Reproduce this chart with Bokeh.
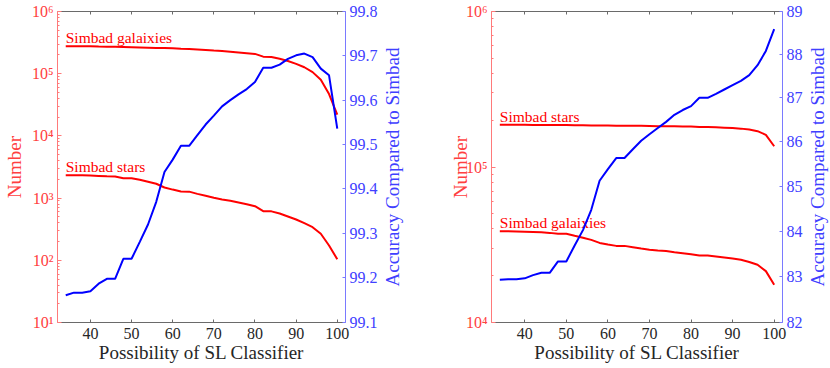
import math
from bokeh.plotting import figure
from bokeh.models import Range1d, LinearAxis, FixedTicker
from bokeh.layouts import row
from bokeh.embed import file_html
from bokeh.resources import INLINE
from bokeh.core.properties import value

# ---------------- data ----------------
threshold = list(range(34, 101, 2))

left_galaxies = [277000, 277000, 276000, 275000, 273000, 272000, 270000, 268000, 266000, 264000,
                 262000, 260000, 258000, 256000, 252000, 250000, 246000, 241000, 236000, 232000,
                 226000, 220000, 214000, 208000, 188000, 186000, 174000, 160000, 144000, 127000,
                 106000, 80000, 47000, 22000]
left_stars = [2340, 2330, 2320, 2300, 2270, 2240, 2220, 2090, 2080, 1970,
              1830, 1700, 1480, 1370, 1280, 1270, 1170, 1090, 1010, 950,
              904, 849, 798, 741, 617, 612, 565, 506, 453, 395,
              341, 267, 173, 104]
left_accuracy = [99.161, 99.167, 99.167, 99.170, 99.187, 99.198, 99.198, 99.243, 99.243, 99.281,
                 99.320, 99.371, 99.438, 99.466, 99.497, 99.497, 99.521, 99.545, 99.565, 99.586,
                 99.600, 99.613, 99.625, 99.641, 99.673, 99.673, 99.680, 99.693, 99.701, 99.705,
                 99.697, 99.671, 99.656, 99.536]

right_stars = [187000, 187000, 187000, 187000, 186500, 186500, 186000, 186000, 186000, 185500,
               185500, 185000, 185000, 185000, 184500, 184500, 184000, 184000, 183500, 183000,
               183000, 182500, 182000, 182000, 181000, 181000, 180000, 179000, 178000, 176500,
               174000, 170000, 161000, 136000]
right_galaxies = [38600, 38600, 38500, 38400, 38200, 38000, 37700, 37200, 37200, 36100,
                  35100, 34000, 32500, 31700, 31100, 31100, 30500, 29900, 29400, 29000,
                  28800, 28300, 27900, 27500, 27000, 27000, 26600, 26200, 25800, 25300,
                  24500, 23500, 21400, 17500]
right_accuracy = [82.93, 82.94, 82.94, 82.96, 83.03, 83.08, 83.08, 83.33, 83.33, 83.68,
                  84.02, 84.47, 85.12, 85.38, 85.63, 85.63, 85.83, 86.02, 86.17, 86.31,
                  86.45, 86.61, 86.72, 86.81, 87.00, 87.00, 87.09, 87.19, 87.29, 87.39,
                  87.52, 87.75, 88.08, 88.59]

x_ticks = [40, 50, 60, 70, 80, 90, 100]
sup = {1: "¹", 2: "²", 3: "³", 4: "⁴", 5: "⁵", 6: "⁶"}
left_log_exps = [1, 2, 3, 4, 5, 6]
right_log_exps = [4, 5, 6]
left_acc_ticks = [99.1, 99.2, 99.3, 99.4, 99.5, 99.6, 99.7, 99.8]
right_acc_ticks = [82, 83, 84, 85, 86, 87, 88, 89]

x_label = "Possibility of SL Classifier"
y_label = "Number"
y2_label = "Accuracy Compared to Simbad"
gal_name = "Simbad galaixies"
star_name = "Simbad stars"

# ---------------- style ----------------
FONT = "Liberation Serif"
RED_TXT = "#ff4040"
RED_AX = "#ff7a7a"
BLUE_TXT = "#4040ff"
BLUE_AX = "#7a7aff"
DARK = "#262626"
GRAY = "#6a6a6a"
XMIN, XMAX = 32, 102
HEIGHT = 367
B_TOP, B_BOTTOM = 11, 45


def make_panel(width, border_l, border_r, exps, acc_ticks, galaxies, stars, accuracy,
               ylabel_standoff):
    y_lo, y_hi = 10 ** exps[0], 10 ** exps[-1]
    acc_lo, acc_hi = acc_ticks[0], acc_ticks[-1]
    p = figure(width=width, height=HEIGHT, x_range=Range1d(XMIN, XMAX),
               y_range=Range1d(y_lo, y_hi), y_axis_type="log",
               output_backend="svg", toolbar_location=None,
               min_border_left=border_l, min_border_right=border_r,
               min_border_top=B_TOP, min_border_bottom=B_BOTTOM)
    p.outline_line_color = None
    p.xgrid.visible = False
    p.ygrid.visible = False
    p.background_fill_color = "white"

    # bottom axis
    xa = p.xaxis[0]
    xa.ticker = FixedTicker(ticks=x_ticks)
    xa.axis_label = x_label
    xa.axis_label_text_font = FONT
    xa.axis_label_text_font_size = "19px"
    xa.axis_label_text_font_style = "normal"
    xa.axis_label_text_color = DARK
    xa.axis_label_standoff = 0
    xa.major_label_text_font = FONT
    xa.major_label_text_font_size = "16px"
    xa.major_label_text_color = DARK
    xa.major_label_standoff = 5
    xa.major_tick_in = 3
    xa.major_tick_out = 0
    xa.minor_tick_line_color = None
    xa.axis_line_color = GRAY
    xa.major_tick_line_color = GRAY

    # top axis (box edge with inward ticks, no labels)
    ta = LinearAxis(ticker=FixedTicker(ticks=x_ticks), major_label_text_font_size="1px",
                    major_label_text_color=None, major_label_standoff=0,
                    major_tick_in=3, major_tick_out=0,
                    minor_tick_line_color=None, axis_line_color=GRAY,
                    major_tick_line_color=GRAY)
    p.add_layout(ta, "above")

    # left log axis
    ya = p.yaxis[0]
    minors = [k * 10 ** e for e in exps[:-1] for k in range(2, 10)]
    ya.ticker = FixedTicker(ticks=[10 ** e for e in exps], minor_ticks=minors)
    ya.major_label_overrides = {10 ** e: "10" + sup[e] for e in exps}
    ya.axis_label = y_label
    ya.axis_label_text_font = FONT
    ya.axis_label_text_font_size = "19px"
    ya.axis_label_text_font_style = "normal"
    ya.axis_label_text_color = RED_TXT
    ya.axis_label_standoff = ylabel_standoff
    ya.major_label_text_font = FONT
    ya.major_label_text_font_size = "16px"
    ya.major_label_text_color = RED_TXT
    ya.major_label_standoff = 4
    ya.major_tick_in = 4
    ya.major_tick_out = 0
    ya.minor_tick_in = 2
    ya.minor_tick_out = 0
    ya.axis_line_color = RED_AX
    ya.major_tick_line_color = RED_AX
    ya.minor_tick_line_color = RED_AX

    # right linear axis
    p.extra_y_ranges = {"acc": Range1d(acc_lo, acc_hi)}
    ra = LinearAxis(y_range_name="acc", ticker=FixedTicker(ticks=acc_ticks))
    ra.major_label_text_font = FONT
    ra.major_label_text_font_size = "16px"
    ra.major_label_text_color = BLUE_TXT
    ra.major_label_standoff = 4
    ra.major_tick_in = 3
    ra.major_tick_out = 0
    ra.minor_tick_line_color = None
    ra.axis_line_color = BLUE_AX
    ra.major_tick_line_color = BLUE_AX
    p.add_layout(ra, "right")

    # data lines
    p.line(threshold, galaxies, line_color="#ff0000", line_width=2)
    p.line(threshold, stars, line_color="#ff0000", line_width=2)
    p.text(x=[threshold[0], threshold[0]], y=[galaxies[0], stars[0]],
           text=[gal_name, star_name], text_font=value(FONT), text_font_size="15.5px",
           text_color="#ff0000", text_baseline="bottom", text_align="left")
    p.line(threshold, accuracy, y_range_name="acc", line_color="#0000ff", line_width=2)
    return p


def make_side_title(width, text, xfrac):
    """Strip holding the right-axis title, reading bottom-to-top."""
    s = figure(width=width, height=HEIGHT, x_range=Range1d(0, 1), y_range=Range1d(0, 1),
               x_axis_location=None, y_axis_location=None,
               output_backend="svg", toolbar_location=None,
               min_border_left=0, min_border_right=0,
               min_border_top=B_TOP, min_border_bottom=B_BOTTOM)
    s.outline_line_color = None
    s.xgrid.visible = False
    s.ygrid.visible = False
    s.text(x=[xfrac], y=[0.5], text=[text], angle=math.pi / 2,
           text_font=value(FONT), text_font_size="19px", text_color=BLUE_TXT,
           text_align="center", text_baseline="middle")
    return s


p1 = make_panel(381, 52, 36, left_log_exps, left_acc_ticks,
                left_galaxies, left_stars, left_accuracy, 4)
t1 = make_side_title(54, y2_label, 0.21)
p2 = make_panel(370, 56, 22, right_log_exps, right_acc_ticks,
                right_galaxies, right_stars, right_accuracy, -8)
t2 = make_side_title(24, y2_label, 0.5)

layout = row(p1, t1, p2, t2)
open("out.html", "w").write(file_html(layout, INLINE))
